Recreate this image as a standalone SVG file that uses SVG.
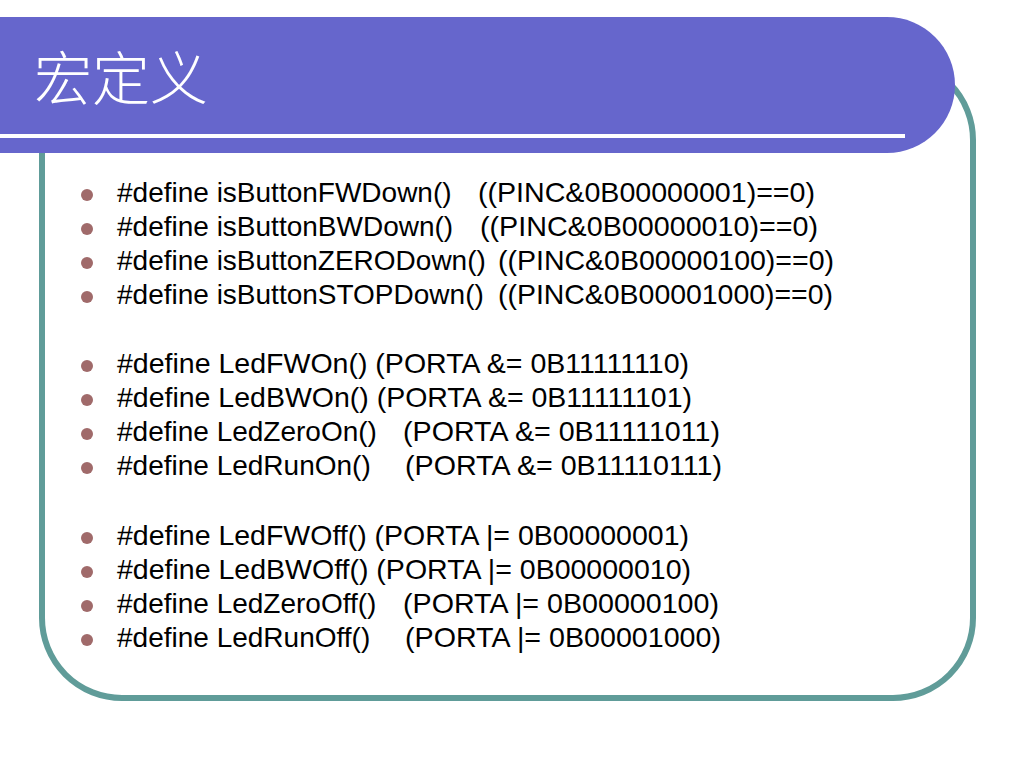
<svg xmlns="http://www.w3.org/2000/svg" width="1024" height="768" viewBox="0 0 1024 768">
<style>
.t{font-family:"Liberation Sans",Arial,sans-serif;font-size:28px;fill:#000;}
.b{fill:#a06a6a;}
</style>
<rect x="0" y="0" width="1024" height="768" fill="#ffffff"/>
<g id="frame">
<rect x="42" y="60" width="931" height="638" rx="80" ry="80" fill="none" stroke="#609c99" stroke-width="6"/>
</g>
<g id="banner">
<path d="M0,17 H887 A68,68 0 0 1 887,153 H0 Z" fill="#6666cc"/>
<rect x="0" y="134" width="905" height="4" fill="#ffffff"/>
<text x="34" y="100" font-family="'Noto Sans CJK SC',sans-serif" font-weight="300" font-size="58" fill="#ffffff">宏定义</text>
</g>
<g id="bullets">
<circle class="b" cx="87" cy="195" r="6"/>
<circle class="b" cx="87" cy="229" r="6"/>
<circle class="b" cx="87" cy="263" r="6"/>
<circle class="b" cx="87" cy="297" r="6"/>
<circle class="b" cx="87" cy="366" r="6"/>
<circle class="b" cx="87" cy="400" r="6"/>
<circle class="b" cx="87" cy="434" r="6"/>
<circle class="b" cx="87" cy="468" r="6"/>
<circle class="b" cx="87" cy="538" r="6"/>
<circle class="b" cx="87" cy="572" r="6"/>
<circle class="b" cx="87" cy="606" r="6"/>
<circle class="b" cx="87" cy="640" r="6"/>
</g>
<g id="lines">
<text class="t" x="117" y="202">#define isButtonFWDown()<tspan x="478" textLength="337" lengthAdjust="spacingAndGlyphs">((PINC&amp;0B00000001)==0)</tspan></text>
<text class="t" x="117" y="236">#define isButtonBWDown()<tspan x="480" textLength="338" lengthAdjust="spacingAndGlyphs">((PINC&amp;0B00000010)==0)</tspan></text>
<text class="t" x="117" y="270">#define isButtonZERODown()<tspan x="498" textLength="336" lengthAdjust="spacingAndGlyphs">((PINC&amp;0B00000100)==0)</tspan></text>
<text class="t" x="117" y="304">#define isButtonSTOPDown()<tspan x="498" textLength="335" lengthAdjust="spacingAndGlyphs">((PINC&amp;0B00001000)==0)</tspan></text>
<text class="t" x="117" y="373" textLength="572" lengthAdjust="spacingAndGlyphs">#define LedFWOn() (PORTA &amp;= 0B11111110)</text>
<text class="t" x="117" y="407" textLength="575" lengthAdjust="spacingAndGlyphs">#define LedBWOn() (PORTA &amp;= 0B11111101)</text>
<text class="t" x="117" y="441">#define LedZeroOn()<tspan x="403" textLength="317" lengthAdjust="spacingAndGlyphs">(PORTA &amp;= 0B11111011)</tspan></text>
<text class="t" x="117" y="475">#define LedRunOn()<tspan x="405" textLength="317" lengthAdjust="spacingAndGlyphs">(PORTA &amp;= 0B11110111)</tspan></text>
<text class="t" x="117" y="545" textLength="572" lengthAdjust="spacingAndGlyphs">#define LedFWOff() (PORTA |= 0B00000001)</text>
<text class="t" x="117" y="579" textLength="574" lengthAdjust="spacingAndGlyphs">#define LedBWOff() (PORTA |= 0B00000010)</text>
<text class="t" x="117" y="613">#define LedZeroOff()<tspan x="403" textLength="316" lengthAdjust="spacingAndGlyphs">(PORTA |= 0B00000100)</tspan></text>
<text class="t" x="117" y="647">#define LedRunOff()<tspan x="405" textLength="316" lengthAdjust="spacingAndGlyphs">(PORTA |= 0B00001000)</tspan></text>
</g>
</svg>
